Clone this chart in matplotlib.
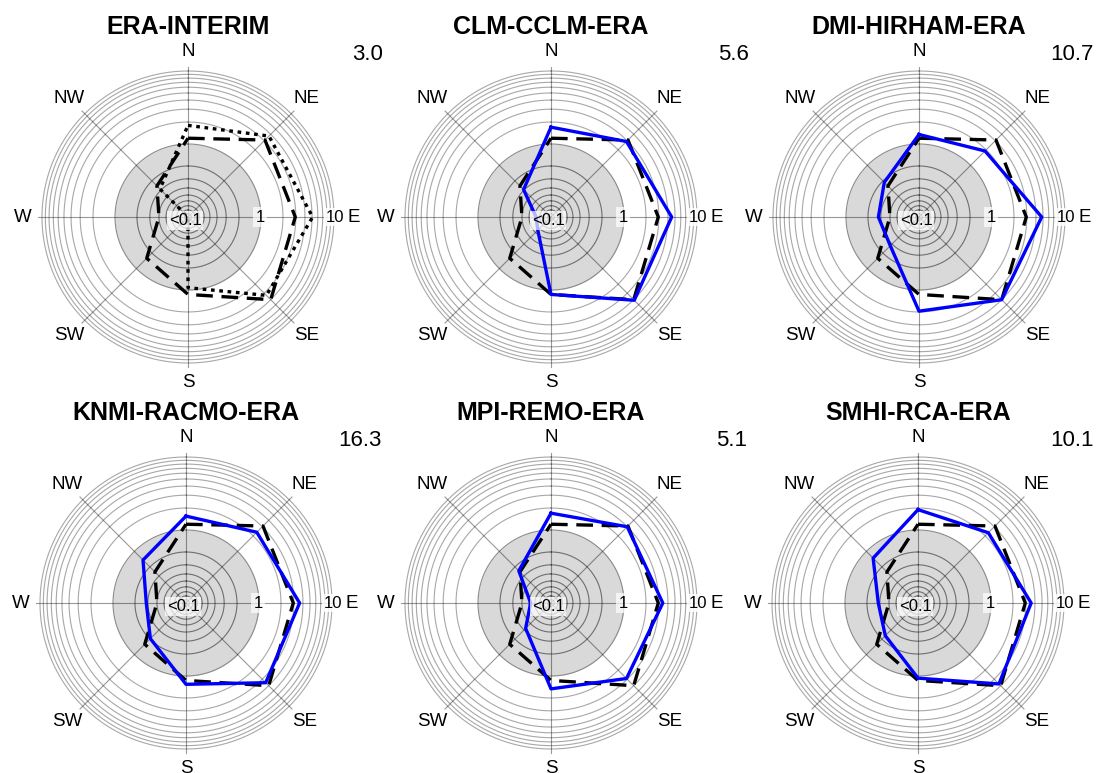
import numpy as np
import matplotlib
matplotlib.use("Agg")
import matplotlib.pyplot as plt
import matplotlib.ticker as mticker

plt.rcParams["font.family"] = ["Liberation Sans", "DejaVu Sans"]

# Wind-direction sectors, clockwise from north
directions = ["N", "NE", "E", "SE", "S", "SW", "W", "NW"]

# Frequencies per sector (%), log radial axis; values below 0.1 sit at the centre
era_interim = [1.2, 3.1, 2.95, 4.0, 1.15, 0.63, 0.25, 0.40]
era_interim_dotted = [1.8, 3.7, 5.1, 3.3, 0.93, 0.05, 0.05, 0.35]
clm_cclm = [1.7, 2.9, 4.5, 4.1, 1.15, 0.18, 0.16, 0.34]
dmi_hirham = [1.35, 1.9, 4.8, 4.0, 1.95, 0.36, 0.36, 0.47]
knmi_racmo = [1.55, 2.35, 3.6, 3.5, 1.3, 0.49, 0.35, 0.68]
mpi_remo = [1.7, 3.0, 3.4, 2.9, 1.5, 0.31, 0.19, 0.42]
smhi_rca = [1.9, 2.3, 3.55, 3.7, 1.07, 0.43, 0.35, 0.74]

titles = ["ERA-INTERIM", "CLM-CCLM-ERA", "DMI-HIRHAM-ERA",
          "KNMI-RACMO-ERA", "MPI-REMO-ERA", "SMHI-RCA-ERA"]
totals = ["3.0", "5.6", "10.7", "16.3", "5.1", "10.1"]
models = [None, clm_cclm, dmi_hirham, knmi_racmo, mpi_remo, smhi_rca]

RMIN, RMAX = 0.1, 10.0
W, H = 1099, 773
R_PX = 146
centers = [(188, 217), (551, 217), (919, 217),
           (186, 603), (551, 603), (918, 603)]
title_y = [27, 27, 27, 413, 413, 413]
total_pos = [(383, 55), (749, 55), (1094, 55),
             (382, 440), (747, 440), (1094, 440)]

fig = plt.figure(figsize=(W / 100, H / 100), dpi=100)

theta_full = np.linspace(0, 2 * np.pi, 361)
angles = np.deg2rad(np.arange(8) * 45.0)
outer_ring_color = "#a8a8a8"
inner_ring_color = "#6e6e6e"


def closed(vals):
    v = np.maximum(np.asarray(vals, dtype=float), RMIN)
    return np.append(angles, angles[0]), np.append(v, v[0])


for i, (cx, cy) in enumerate(centers):
    ax = fig.add_axes([(cx - R_PX) / W, (H - cy - R_PX) / H,
                       2 * R_PX / W, 2 * R_PX / H], projection="polar")
    ax.set_theta_zero_location("N")
    ax.set_theta_direction(-1)
    ax.set_rscale("log")
    ax.set_rlim(RMIN, RMAX)
    ax.grid(False)
    ax.set_xticks([])
    ax.set_yticks([])
    ax.yaxis.set_minor_locator(mticker.NullLocator())
    ax.yaxis.set_minor_formatter(mticker.NullFormatter())
    ax.spines["polar"].set_visible(False)
    ax.patch.set_alpha(0)

    # shaded inner decade
    ax.fill_between(theta_full, RMIN, 1.0, color="#d9d9d9", lw=0, zorder=1)

    # ring grid: 1/2..1/9 inside the shaded disc, 1..10 outside
    for k in range(2, 10):
        ax.plot(theta_full, np.full_like(theta_full, 1.0 / k),
                color=inner_ring_color, lw=0.8, zorder=2)
    ax.plot(theta_full, np.full_like(theta_full, 1.0),
            color="#8a8a8a", lw=0.8, zorder=2)
    for k in range(2, 11):
        ax.plot(theta_full, np.full_like(theta_full, float(k)),
                color=outer_ring_color, lw=0.8, zorder=2, clip_on=False)
    for a in angles:
        ax.plot([a, a], [RMIN, 11.3], color="black", alpha=0.4, lw=0.8,
                zorder=2, clip_on=False)

    th, rv = closed(era_interim)
    ax.plot(th, rv, color="black", lw=2.4, ls=(0, (5, 2.6)), zorder=4,
            clip_on=False)
    if i == 0:
        th, rv = closed(era_interim_dotted)
        ax.plot(th, rv, color="black", lw=2.4, ls=(0, (1.1, 1.4)), zorder=4,
                clip_on=False)
    else:
        th, rv = closed(models[i])
        ax.plot(th, rv, color="#0000ff", lw=2.4, zorder=5, clip_on=False)

    # direction labels
    for a, d in zip(angles, directions):
        rr = 18.6 if len(d) == 1 else 20.0
        ax.text(a, rr, d, ha="center", va="center", fontsize=13.5,
                color="black", clip_on=False)

    # scale labels
    ax.text(0.49, 0.488, "<0.1", transform=ax.transAxes, ha="center",
            va="center", fontsize=12, zorder=6,
            bbox=dict(boxstyle="square,pad=0.12", fc="white", ec="none",
                      alpha=0.7))
    ax.text(np.pi / 2, 0.98, "1", ha="center", va="center", fontsize=12,
            zorder=6, bbox=dict(boxstyle="square,pad=0.15", fc="white",
                                ec="none", alpha=0.7))
    ax.text(np.pi / 2, 10.2, "10", ha="center", va="center", fontsize=12,
            zorder=6, clip_on=False,
            bbox=dict(boxstyle="square,pad=0.1", fc="white", ec="none",
                      alpha=0.85))

    fig.text(cx / W, 1 - title_y[i] / H, titles[i], ha="center", va="center",
             fontsize=18, fontweight="bold", color="black")
    tx, ty = total_pos[i]
    fig.text(tx / W, 1 - ty / H, totals[i], ha="right", va="center",
             fontsize=16, color="black")

fig.savefig("out.png", dpi=100, facecolor="white")
